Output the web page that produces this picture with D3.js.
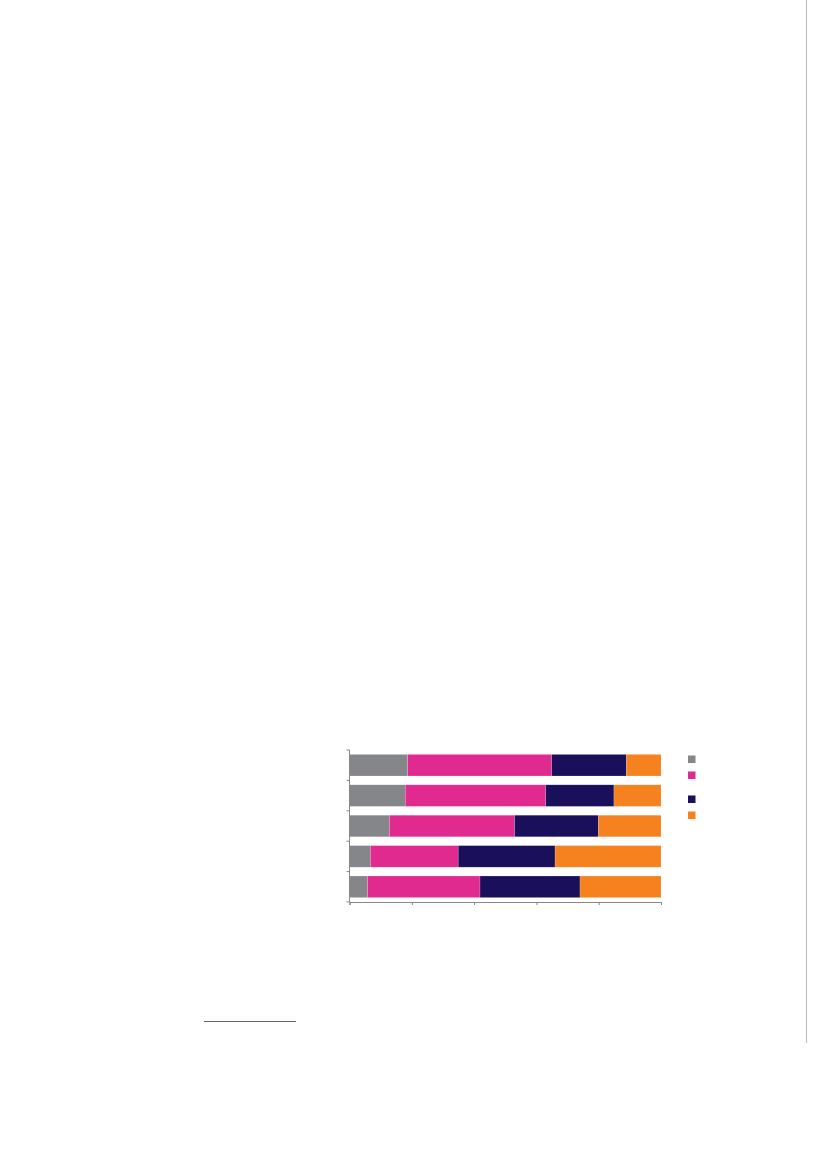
<!DOCTYPE html>
<html lang="en">
<head>
  <meta charset="UTF-8">
  <title>Stacked bar chart</title>
  <script src="https://d3js.org/d3.v7.min.js"></script>
  <style>
    body { margin: 0; background: #fff; font-family: "Liberation Sans", Arial, sans-serif; }
    svg { display: block; }
  </style>
</head>
<body>
<div id="chart"></div>
<script>
  // rows top to bottom (labels are not printed in the reference)
  const categories = ["r1", "r2", "r3", "r4", "r5"];
  const seriesKeys = ["s1", "s2", "s3", "s4"];
  const seriesColors = ["#858689", "#e12a8f", "#1a0f5b", "#f5821f"];
  const s1 = [18.7, 17.9, 12.8, 6.7, 5.8];
  const s2 = [46.2, 45.1, 40.2, 28.2, 36.1];
  const s3 = [24.0, 21.9, 26.9, 31.1, 32.1];
  const s4 = [11.1, 15.1, 20.1, 34.0, 26.0];
  const xTicks = [0, 20, 40, 60, 80, 100];

  const W = 827, H = 1169;
  const svg = d3.select("#chart").append("svg").attr("width", W).attr("height", H);

  // page rule on the right and footnote rule
  svg.append("line").attr("x1", 806.5).attr("x2", 806.5).attr("y1", 0).attr("y2", 1043)
     .attr("stroke", "#a8a8a8").attr("stroke-width", 0.8);
  svg.append("line").attr("x1", 204).attr("x2", 296).attr("y1", 1021.5).attr("y2", 1021.5)
     .attr("stroke", "#666").attr("stroke-width", 1);

  const rows = categories.map((c, i) => ({ cat: c, s1: s1[i], s2: s2[i], s3: s3[i], s4: s4[i] }));
  const stacked = d3.stack().keys(seriesKeys)(rows);

  const x = d3.scaleLinear().domain([0, 100]).range([349.5, 661]);
  const y = d3.scaleBand().domain(categories).range([750, 902]).paddingInner(0.29).paddingOuter(0.145);
  const color = d3.scaleOrdinal().domain(seriesKeys).range(seriesColors);

  svg.append("g").selectAll("g")
    .data(stacked)
    .join("g")
      .attr("fill", d => color(d.key))
    .selectAll("rect")
    .data(d => d)
    .join("rect")
      .attr("x", d => x(d[0]))
      .attr("y", d => y(d.data.cat))
      .attr("width", d => x(d[1]) - x(d[0]))
      .attr("height", y.bandwidth())
      .attr("stroke", "#ffffff")
      .attr("stroke-opacity", 0.35)
      .attr("stroke-width", 0.5);

  // y axis: line with ticks between categories
  const yAx = svg.append("g").attr("transform", "translate(349.5,0)");
  yAx.append("line").attr("y1", 750).attr("y2", 902).attr("stroke", "#888");
  const bounds = d3.range(categories.length + 1).map(i => 750 + i * (152 / categories.length));
  yAx.selectAll("line.t").data(bounds).join("line").attr("class", "t")
     .attr("x1", -3).attr("x2", 0).attr("y1", d => d).attr("y2", d => d).attr("stroke", "#888");

  // x axis, no labels
  const xAxis = d3.axisBottom(x).tickValues(xTicks).tickSize(3).tickFormat("");
  const xg = svg.append("g").attr("transform", "translate(0,902)").call(xAxis);
  xg.select(".domain").attr("stroke", "#888");
  xg.selectAll(".tick line").attr("stroke", "#888");

  // legend squares (labels not printed)
  const legendY = [755.5, 771.5, 795.5, 811.5];
  svg.append("g").selectAll("rect")
    .data(seriesKeys)
    .join("rect")
      .attr("x", 688)
      .attr("y", (d, i) => legendY[i])
      .attr("width", 7.5)
      .attr("height", 7.5)
      .attr("fill", d => color(d));
</script>
</body>
</html>
